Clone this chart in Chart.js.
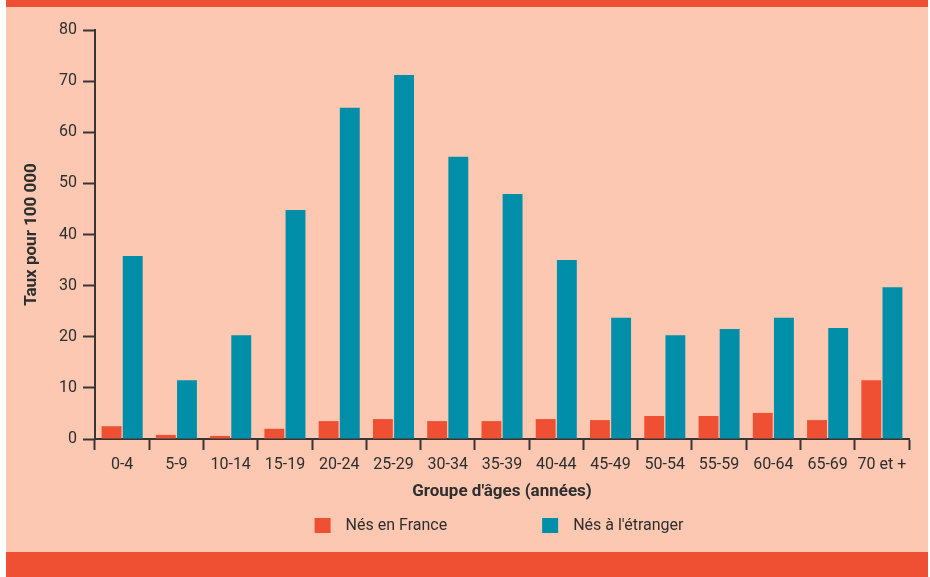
<!DOCTYPE html>
<html>
<head>
<meta charset="utf-8">
<script src="https://cdn.jsdelivr.net/npm/chart.js@4"></script>
<style>
  body { margin: 0; background: #fff; }
  #panel { position: absolute; left: 6px; top: 0; width: 922px; height: 577px; background: #fcc8b2; }
  #topband { position: absolute; left: 0; top: 0; width: 922px; height: 7px; background: #ef5033; }
  #bottomband { position: absolute; left: 0; top: 552px; width: 922px; height: 25px; background: #ef5033; }
  #wrap { position: absolute; left: 0; top: 7px; width: 922px; height: 545px; }
</style>
</head>
<body>
<div id="panel">
  <div id="topband"></div>
  <div id="wrap"><canvas id="grafico"></canvas></div>
  <div id="bottomband"></div>
</div>
<script>
const groupes = ['0-4', '5-9', '10-14', '15-19', '20-24', '25-29', '30-34', '35-39', '40-44', '45-49', '50-54', '55-59', '60-64', '65-69', '70 et +'];
const nesFrance = [2.5, 0.8, 0.6, 2.0, 3.5, 3.9, 3.5, 3.5, 3.9, 3.7, 4.5, 4.5, 5.1, 3.7, 11.5];
const nesEtranger = [35.8, 11.5, 20.3, 44.8, 64.8, 71.2, 55.2, 47.9, 35.0, 23.7, 20.3, 21.5, 23.7, 21.7, 29.7];
const yTicks = [0, 10, 20, 30, 40, 50, 60, 70, 80];

const texte = '#2e2e2e';
const axe = '#3a3434';
const police = 'Roboto, "Open Sans", sans-serif';

// legende dessinee a la main pour garder les ecarts du modele
const legende = {
  id: 'legende',
  afterDraw(chart) {
    const c = chart.ctx;
    const area = chart.chartArea;
    c.save();
    c.font = '16px ' + police;
    c.textBaseline = 'middle';
    const items = chart.data.datasets.map(ds => ({ label: ds.label, color: ds.backgroundColor, w: c.measureText(ds.label).width }));
    const box = 16, gap = 15, sep = 95;
    let total = 0;
    items.forEach((it, i) => { total += box + gap + it.w + (i ? sep : 0); });
    let x = (area.left + area.right) / 2 - 3 - total / 2;
    const y = 519;
    items.forEach(it => {
      c.fillStyle = it.color;
      c.fillRect(x, y - 8, box, 15);
      c.fillStyle = texte;
      c.fillText(it.label, x + box + gap, y);
      x += box + gap + it.w + sep;
    });
    c.restore();
  }
};

const ctx = document.getElementById('grafico').getContext('2d');
new Chart(ctx, {
  type: 'bar',
  data: {
    labels: groupes,
    datasets: [{
      label: 'Nés en France',
      data: nesFrance,
      backgroundColor: '#ef5033',
      categoryPercentage: 0.78,
      barPercentage: 0.94
    }, {
      label: "Nés à l'étranger",
      data: nesEtranger,
      backgroundColor: '#008ea9',
      categoryPercentage: 0.78,
      barPercentage: 0.94
    }]
  },
  options: {
    responsive: true,
    maintainAspectRatio: false,
    animation: false,
    layout: { padding: { left: 0, right: 19, top: 23, bottom: 43 } },
    plugins: {
      legend: { display: false },
      tooltip: { enabled: false }
    },
    scales: {
      x: {
        grid: { drawOnChartArea: false, drawTicks: true, tickLength: 11, tickWidth: 2, tickColor: axe, offset: true },
        border: { color: axe, width: 2 },
        ticks: { color: texte, font: { family: police, size: 16 }, padding: 5, maxRotation: 0, autoSkip: false },
        title: { display: true, text: "Groupe d'âges (années)", color: texte, font: { family: police, size: 17, weight: 'bold' }, padding: { top: 0, bottom: 7 } },
        afterFit(scale) { scale.height = 70; }
      },
      y: {
        min: 0,
        max: 80,
        afterBuildTicks(scale) { scale.ticks = yTicks.map(v => ({ value: v })); },
        grid: { drawOnChartArea: false, drawTicks: true, tickLength: 12, tickWidth: 2, tickColor: axe },
        border: { color: axe, width: 2 },
        ticks: { color: texte, font: { family: police, size: 16 }, padding: 6 },
        title: { display: true, text: 'Taux pour 100 000', color: texte, font: { family: police, size: 17, weight: 'bold' }, padding: { top: 16, bottom: 0 } },
        afterFit(scale) { scale.width = 89; }
      }
    }
  },
  plugins: [legende]
});
</script>
</body>
</html>
